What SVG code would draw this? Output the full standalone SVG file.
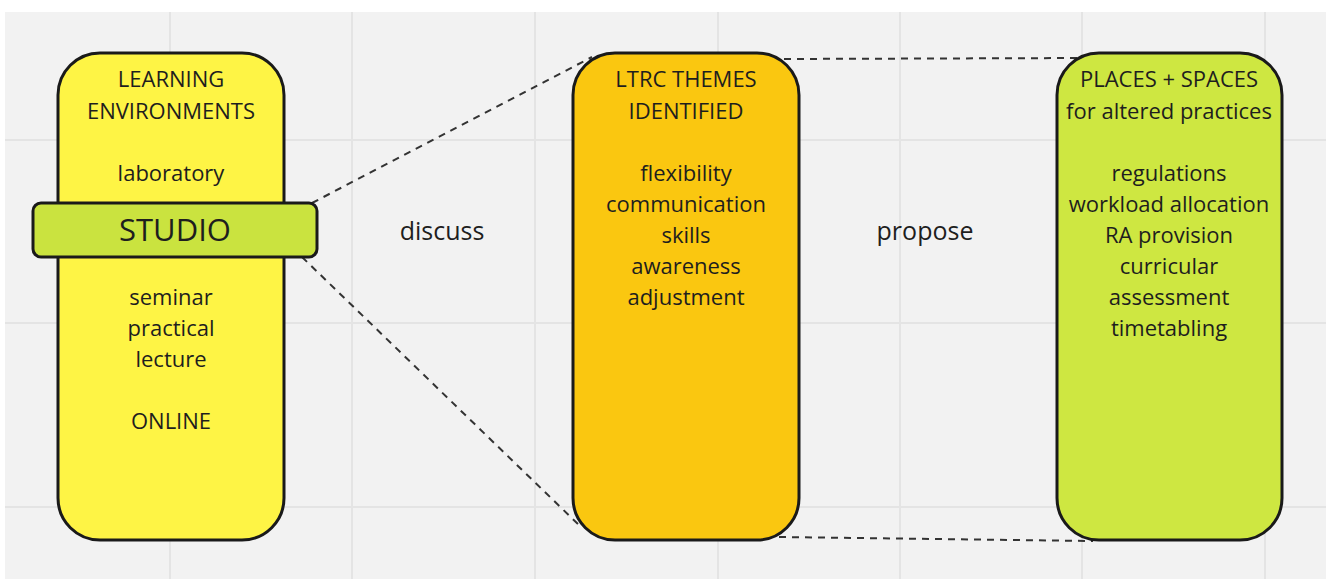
<svg xmlns="http://www.w3.org/2000/svg" width="1326" height="579" viewBox="0 0 1326 579">
<style>
.t{font-family:"Open Sans","Liberation Sans",sans-serif;font-size:22px;fill:#1e1e1e;text-anchor:middle;dominant-baseline:central}
.box{stroke:#1a1a1a;stroke-width:3}
.grid{stroke:#e4e4e4;stroke-width:2}
.dash{stroke:#333;stroke-width:2;stroke-dasharray:7 6;fill:none}
.lbl{font-size:25px}
</style>
<rect x="0" y="0" width="1326" height="579" fill="#ffffff"/>
<rect x="5" y="12" width="1321" height="567" fill="#f2f2f2"/>
<g id="grid">
<line class="grid" x1="170" y1="12" x2="170" y2="579"/>
<line class="grid" x1="352" y1="12" x2="352" y2="579"/>
<line class="grid" x1="535" y1="12" x2="535" y2="579"/>
<line class="grid" x1="718" y1="12" x2="718" y2="579"/>
<line class="grid" x1="900" y1="12" x2="900" y2="579"/>
<line class="grid" x1="1082" y1="12" x2="1082" y2="579"/>
<line class="grid" x1="1265" y1="12" x2="1265" y2="579"/>
<line class="grid" x1="5" y1="140" x2="1326" y2="140"/>
<line class="grid" x1="5" y1="323" x2="1326" y2="323"/>
<line class="grid" x1="5" y1="507" x2="1326" y2="507"/>
</g>
<g id="connectors">
<line class="dash" x1="312" y1="203" x2="592" y2="57"/>
<line class="dash" x1="302" y1="257" x2="580" y2="526"/>
<line class="dash" x1="784" y1="59" x2="1086" y2="58"/>
<line class="dash" x1="779" y1="537" x2="1093" y2="541"/>
</g>
<g id="learning">
<rect class="box" x="58" y="53" width="226" height="487" rx="42" fill="#fef445"/>
<text class="t" x="171" y="78">LEARNING</text>
<text class="t" x="171" y="110">ENVIRONMENTS</text>
<text class="t" x="171" y="172">laboratory</text>
<text class="t" x="171" y="296">seminar</text>
<text class="t" x="171" y="327">practical</text>
<text class="t" x="171" y="358">lecture</text>
<text class="t" x="171" y="420">ONLINE</text>
</g>
<g id="studio">
<rect class="box" x="33" y="203" width="284" height="54" rx="8" fill="#cae33f"/>
<text class="t" x="175" y="229" style="font-size:31px">STUDIO</text>
</g>
<g id="discuss"><text class="t lbl" x="442" y="230">discuss</text></g>
<g id="themes">
<rect class="box" x="573" y="53" width="226" height="487" rx="42" fill="#fac710"/>
<text class="t" x="686" y="78">LTRC THEMES</text>
<text class="t" x="686" y="110">IDENTIFIED</text>
<text class="t" x="686" y="172">flexibility</text>
<text class="t" x="686" y="203">communication</text>
<text class="t" x="686" y="234">skills</text>
<text class="t" x="686" y="265">awareness</text>
<text class="t" x="686" y="296">adjustment</text>
</g>
<g id="propose"><text class="t lbl" x="925" y="230">propose</text></g>
<g id="places">
<rect class="box" x="1057" y="53" width="225" height="487" rx="42" fill="#cee741"/>
<text class="t" x="1169" y="78">PLACES + SPACES</text>
<text class="t" x="1169" y="110">for altered practices</text>
<text class="t" x="1169" y="172">regulations</text>
<text class="t" x="1169" y="203">workload allocation</text>
<text class="t" x="1169" y="234">RA provision</text>
<text class="t" x="1169" y="265">curricular</text>
<text class="t" x="1169" y="296">assessment</text>
<text class="t" x="1169" y="327">timetabling</text>
</g>
</svg>
